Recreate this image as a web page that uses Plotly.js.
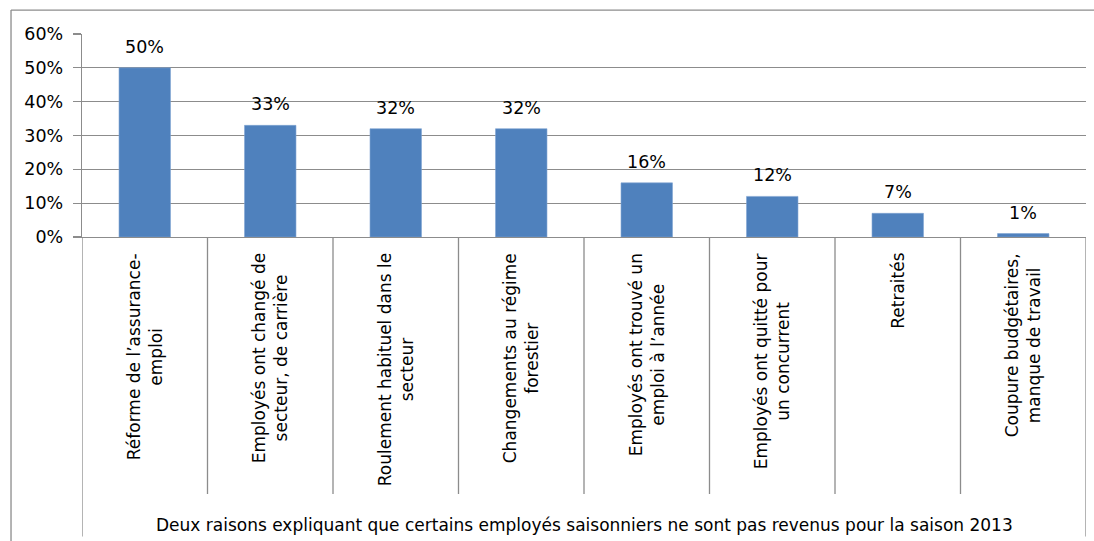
<!DOCTYPE html>
<html>
<head>
<meta charset="utf-8">
<script src="https://cdn.plot.ly/plotly-3.0.1.min.js"></script>
<style>html,body{margin:0;padding:0;background:#fff;}#chart{width:1094px;height:541px;}</style>
</head>
<body>
<div id="chart"></div>
<script>
const categories = [
  "Réforme de l’assurance-<br>emploi",
  "Employés ont changé de<br>secteur, de carrière",
  "Roulement habituel dans le<br>secteur",
  "Changements au régime<br>forestier",
  "Employés ont trouvé un<br>emploi à l’année",
  "Employés ont quitté pour<br>un concurrent",
  "Retraités",
  "Coupure budgétaires,<br>manque de travail"
];
const values = [0.50, 0.33, 0.32, 0.32, 0.16, 0.12, 0.07, 0.01];
const valueLabels = ["50%", "33%", "32%", "32%", "16%", "12%", "7%", "1%"];
const groupTitle = "Deux raisons expliquant que certains employés saisonniers ne sont pas revenus pour la saison 2013";

const FONT = "DejaVu Sans, sans-serif";
const GRID = "#8c8c8c";
const idx = categories.map((c, i) => i);

const annotations = [];
values.forEach((v, i) => {
  annotations.push({
    x: i, y: v, xref: "x", yref: "y",
    text: valueLabels[i], showarrow: false,
    xanchor: "center", yanchor: "bottom", yshift: 9,
    font: {family: FONT, size: 17.5, color: "#000"}
  });
});
categories.forEach((c, i) => {
  annotations.push({
    x: i, y: 0, xref: "x", yref: "paper",
    text: c, showarrow: false, textangle: -90, align: "center",
    xanchor: "center", yanchor: "top", yshift: -14,
    font: {family: FONT, size: 17, color: "#000"}
  });
});
annotations.push({
  x: 0.5, y: 0, xref: "paper", yref: "paper",
  text: groupTitle, showarrow: false,
  xanchor: "center", yanchor: "middle", yshift: -288,
  font: {family: FONT, size: 17, color: "#000"}
});

const shapes = [];
for (let i = 0; i < categories.length - 1; i++) {
  shapes.push({type: "line", xref: "x", yref: "paper", x0: i + 0.5, x1: i + 0.5, y0: 0, y1: -1.266,
    line: {color: GRID, width: 1.3}});
}
// left & right vertical lines of the category area
shapes.push({type: "line", xref: "x", yref: "paper", x0: -0.5, x1: -0.5, y0: 0, y1: -1.475, line: {color: GRID, width: 1.3}});
shapes.push({type: "line", xref: "x", yref: "paper", x0: 7.5, x1: 7.5, y0: 0, y1: -1.475, line: {color: GRID, width: 1.3}});
// outer chart border (left and top)
shapes.push({type: "line", xref: "paper", yref: "paper", x0: -0.0707, x1: -0.0707, y0: 1.118, y1: -1.6, line: {color: GRID, width: 1.3}});
shapes.push({type: "line", xref: "paper", yref: "paper", x0: -0.0707, x1: 1.02, y0: 1.118, y1: 1.118, line: {color: GRID, width: 1.3}});

const data = [{
  type: "bar", x: idx, y: values,
  marker: {color: "#4F81BD", line: {color: "#7ea3d1", width: 0.6}},
  hoverinfo: "none"
}];

const layout = {
  width: 1094, height: 541,
  margin: {l: 82, r: 8, t: 34, b: 304},
  paper_bgcolor: "#fff", plot_bgcolor: "#fff",
  showlegend: false,
  bargap: 0.59,
  xaxis: {
    type: "linear", range: [-0.5, 7.5], showticklabels: false, showgrid: false, zeroline: false,
    showline: true, linecolor: GRID, linewidth: 1.3, ticks: "", fixedrange: true
  },
  yaxis: {
    range: [0, 0.6], dtick: 0.1, tickformat: ".0%",
    showgrid: true, gridcolor: GRID, gridwidth: 1.3, zeroline: false,
    showline: true, linecolor: GRID, linewidth: 1.3,
    ticks: "outside", ticklen: 8, tickcolor: GRID, tickwidth: 1.3,
    ticklabelstandoff: 6,
    tickfont: {family: FONT, size: 17.5, color: "#000"}, fixedrange: true
  },
  annotations: annotations,
  shapes: shapes
};

Plotly.newPlot("chart", data, layout, {displayModeBar: false, staticPlot: true});
</script>
</body>
</html>
